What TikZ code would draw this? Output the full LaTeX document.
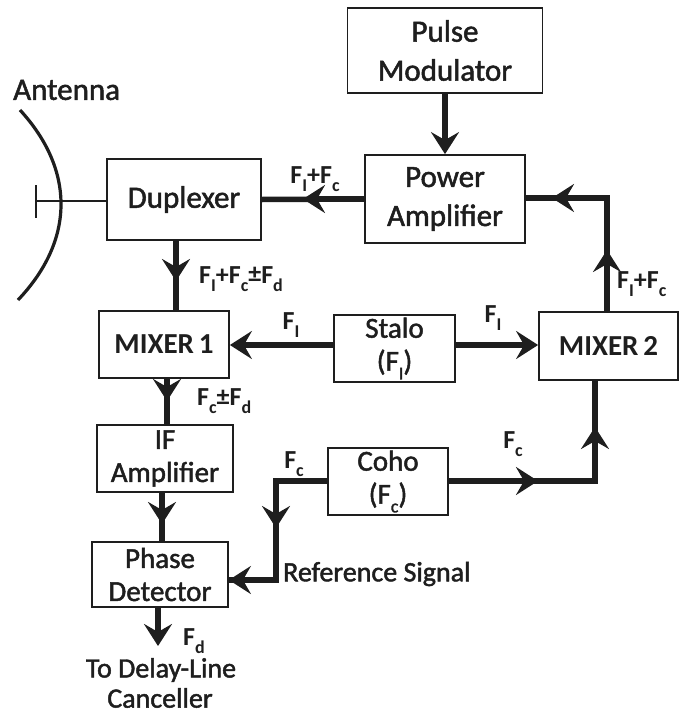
\documentclass[tikz,border=0pt]{standalone}
\usepackage{fontspec}
\setmainfont{Carlito}
\newfontfamily\hvy[FakeBold=1.6]{Carlito}
\usetikzlibrary{arrows.meta,calc}
\definecolor{ink}{RGB}{30,30,30}
\newcommand\fsub[1]{\raisebox{-0.3em}{\fontsize{18}{18}\selectfont #1}}
\newcommand\bigtxt{\hvy\fontsize{31}{39}\selectfont}
\newcommand\smalltxt{\hvy\fontsize{29}{33}\selectfont}
\newcommand\labtxt{\fontsize{26}{30}\selectfont\bfseries}
\newcommand\midtxt{\hvy\fontsize{28}{33}\selectfont}
\begin{document}
\begin{tikzpicture}[x=1pt,y=-1pt,
  box/.style={draw=ink, line width=1.8pt, inner sep=0pt, align=center, font=\smalltxt, text=ink},
  wire/.style={draw=ink, line width=5.5pt, line join=miter},
  thinwire/.style={draw=ink, line width=2.8pt},
  tipend/.style={-{Stealth[length=22pt,width=28pt,inset=8pt]}},
  lab/.style={inner sep=0pt, font=\labtxt, text=ink},
  note/.style={inner sep=0pt, font=\midtxt, text=ink, align=center}]
\useasboundingbox[fill=white] (0,0) rectangle (685,717);

% boxes
\node[box, minimum width=195pt, minimum height=85pt, font=\bigtxt] (pm) at (445,50.5) {Pulse\\Modulator};
\node[box, minimum width=160pt, minimum height=88pt, font=\bigtxt] (pa) at (445,199) {Power\\Amplifier};
\node[box, minimum width=154pt, minimum height=81pt, font=\bigtxt] (dup) at (184,199.5) {Duplexer};
\node[box, minimum width=130pt, minimum height=67pt, font=\fontsize{29}{33}\selectfont\bfseries] (mx1) at (164,344.5) {MIXER\,1};
\node[box, minimum width=121pt, minimum height=67pt] (stalo) at (394.5,348.5) {Stalo\\(F\fsub{I})};
\node[box, minimum width=139pt, minimum height=68pt, font=\fontsize{29}{33}\selectfont\bfseries] (mx2) at (608.5,346) {MIXER\,2};
\node[box, minimum width=136pt, minimum height=67pt] (ifa) at (165,458.5) {IF\\Amplifier};
\node[box, minimum width=136pt, minimum height=65pt] (pd) at (160,574.5) {Phase\\Detector};
\node[box, minimum width=120pt, minimum height=67pt] (coho) at (388,481.5) {Coho\\(F\fsub{c})};

% antenna
\coordinate (ant1) at (20,110);
\coordinate (ant2) at (18,300);
\coordinate (feed) at (36,201);
\coordinate (tickA) at (36,185);
\coordinate (tickB) at (36,218);
\draw[ink, line width=3.2pt] (ant1) .. controls (75,170) and (75,240) .. (ant2);
\draw[thinwire] (dup.west |- feed) -- (feed);
\draw[ink, line width=2.2pt] (tickA) -- (tickB);
\node[note, anchor=west, font=\hvy\fontsize{31}{34}\selectfont] (antlab) at (13,90) {Antenna};

% guide coordinates
\coordinate (v1) at (176,0);
\coordinate (v2) at (167,0);
\coordinate (v3) at (162,0);
\coordinate (v4) at (158,0);
\coordinate (vm2a) at (595,0);
\coordinate (vm2b) at (607,0);
\coordinate (hs) at (0,345);
\coordinate (hc) at (0,481);
\coordinate (hpa) at (0,198);
\coordinate (hpd) at (0,580);

% Pulse modulator -> power amplifier
\draw[wire, tipend] (pm.south) -- (pa.north);

% Power amplifier -> duplexer
\coordinate (t2) at (303,199);
\draw[wire] (pa.west) -- (dup.east);
\draw[wire, tipend] (pa.west) -- (t2);

% duplexer -> mixer 1
\coordinate (t3) at (176,281);
\draw[wire] (dup.south -| v1) -- (mx1.north -| v1);
\draw[wire, tipend] (dup.south -| v1) -- (t3);

% stalo -> mixers
\draw[wire, tipend] (stalo.west |- hs) -- (mx1.east |- hs);
\draw[wire, tipend] (stalo.east |- hs) -- (mx2.west |- hs);

% mixer 1 -> IF amp
\coordinate (t6) at (167,401);
\draw[wire] (mx1.south -| v2) -- (ifa.north -| v2);
\draw[wire, tipend] (mx1.south -| v2) -- (t6);

% IF amp -> phase detector
\coordinate (t7) at (162,524);
\draw[wire] (ifa.south -| v3) -- (pd.north -| v3);
\draw[wire, tipend] (ifa.south -| v3) -- (t7);

% phase detector output
\coordinate (out) at (158,646);
\draw[wire, tipend] (pd.south -| v4) -- (out);

% coho -> reference -> phase detector
\coordinate (c1) at (276,481);
\coordinate (c2) at (276,580);
\coordinate (t9) at (276,528);
\draw[wire] (coho.west |- hc) -- (c1) -- (c2) -- (pd.east |- hpd);
\draw[wire, tipend] (c1) -- (t9);
\draw[wire, tipend] (c2) -- (pd.east |- hpd);

% coho -> mixer 2
\coordinate (c3) at (595,481);
\coordinate (t10) at (538,481);
\coordinate (t11) at (595,427);
\draw[wire] (coho.east |- hc) -- (c3) -- (mx2.south -| vm2a);
\draw[wire, tipend] (coho.east |- hc) -- (t10);
\draw[wire, tipend] (c3) -- (t11);

% mixer 2 -> power amplifier
\coordinate (c4) at (607,198);
\coordinate (t12) at (607,250);
\coordinate (t13) at (552,198);
\draw[wire] (mx2.north -| vm2b) -- (c4) -- (pa.east |- hpa);
\draw[wire, tipend] (mx2.north -| vm2b) -- (t12);
\draw[wire, tipend] (c4) -- (t13);

% labels
\node[lab] (l1) at (315,179) {F\fsub{I}+F\fsub{c}};
\node[lab, anchor=west] (l2) at (199,279) {F\fsub{I}+F\fsub{c}\raisebox{0.05em}{±}F\fsub{d}};
\node[lab] (l3) at (291,325) {F\fsub{I}};
\node[lab] (l4) at (493,318) {F\fsub{I}};
\node[lab, anchor=west] (l5) at (617,284) {F\fsub{I}+F\fsub{c}};
\node[lab, anchor=west] (l6) at (197,401) {F\fsub{c}±F\fsub{d}};
\node[lab] (l7) at (294,464) {F\fsub{c}};
\node[lab] (l8) at (513,444) {F\fsub{c}};
\node[lab] (l9) at (194,641) {F\fsub{d}};
\node[note, anchor=west] (ref) at (283,574) {Reference Signal};
\node[note] (dl) at (161,670) {To Delay-Line};
\node[note] (can) at (160,698) {Canceller};
\end{tikzpicture}
\end{document}
